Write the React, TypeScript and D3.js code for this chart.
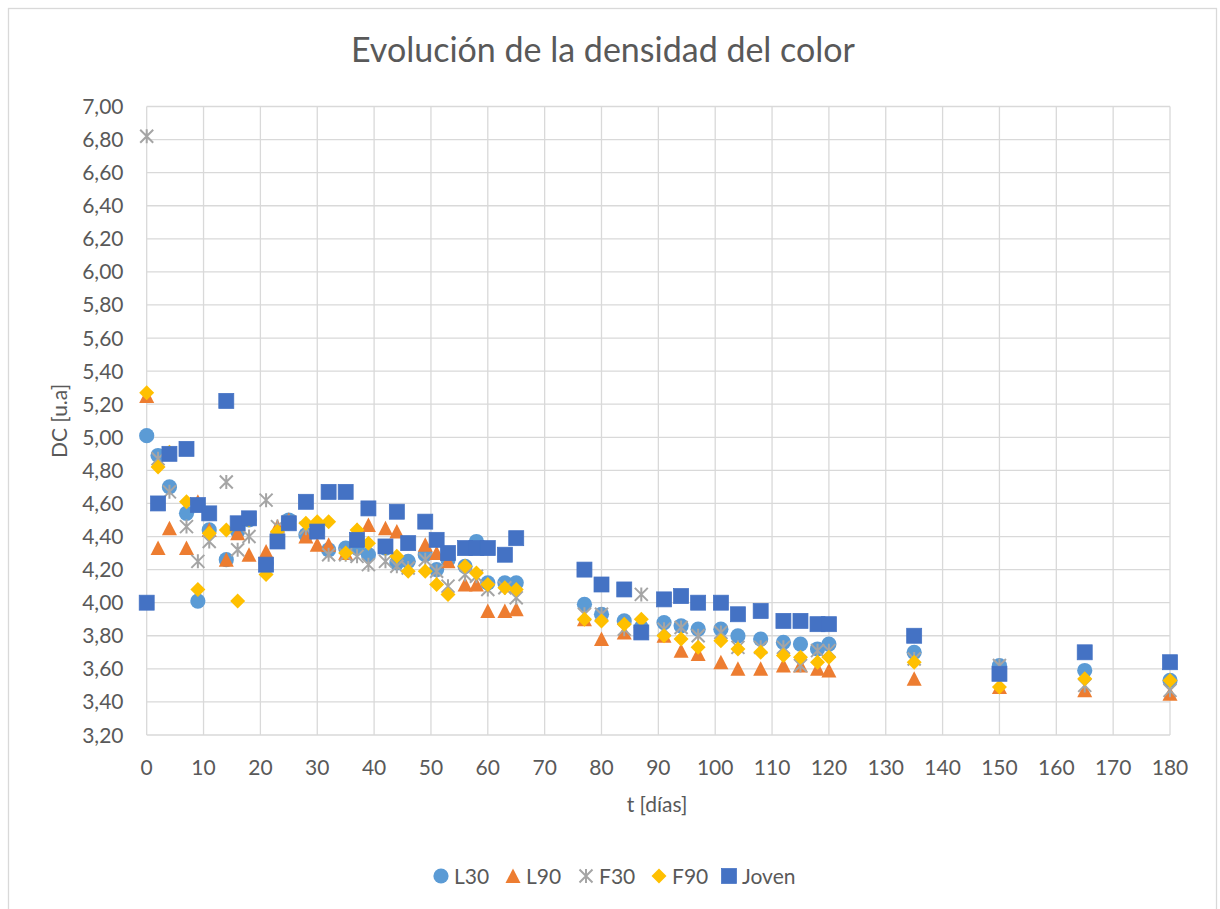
import React from 'react';
import * as d3 from 'd3';

const days = [0, 2, 4, 7, 9, 11, 14, 16, 18, 21, 23, 25, 28, 30, 32, 35, 37, 39, 42, 44, 46, 49, 51, 53, 56, 58, 60, 63, 65, 77, 80, 84, 87, 91, 94, 97, 101, 104, 108, 112, 115, 118, 120, 135, 150, 165, 180];

const L30 = [5.01, 4.89, 4.70, 4.54, 4.01, 4.44, 4.26, 4.43, 4.50, 4.24, 4.38, 4.50, 4.41, 4.43, 4.32, 4.33, 4.33, 4.29, 4.33, 4.24, 4.25, 4.29, 4.20, 4.26, 4.22, 4.37, 4.12, 4.12, 4.12, 3.99, 3.93, 3.89, 3.85, 3.88, 3.86, 3.84, 3.84, 3.80, 3.78, 3.76, 3.75, 3.72, 3.75, 3.70, 3.62, 3.59, 3.53];
const L90 = [5.25, 4.33, 4.45, 4.33, 4.61, 4.44, 4.26, 4.42, 4.29, 4.31, 4.46, 4.50, 4.40, 4.35, 4.35, 4.30, 4.44, 4.47, 4.45, 4.43, 4.36, 4.35, 4.30, 4.25, 4.11, 4.11, 3.95, 3.95, 3.96, 3.90, 3.78, 3.82, 3.83, 3.80, 3.71, 3.69, 3.64, 3.60, 3.60, 3.62, 3.62, 3.60, 3.59, 3.54, 3.49, 3.47, 3.45];
const F30 = [6.82, 4.87, 4.67, 4.46, 4.25, 4.37, 4.73, 4.32, 4.40, 4.62, 4.46, 4.49, 4.45, 4.44, 4.29, 4.29, 4.28, 4.23, 4.25, 4.22, 4.21, 4.26, 4.19, 4.10, 4.17, 4.16, 4.08, 4.09, 4.03, 3.93, 3.93, 3.84, 4.05, 3.84, 3.85, 3.80, 3.82, 3.73, 3.73, 3.73, 3.62, 3.71, 3.71, 3.66, 3.62, 3.50, 3.47];
const F90 = [5.27, 4.82, 4.91, 4.61, 4.08, 4.42, 4.44, 4.01, 4.50, 4.17, 4.43, 4.48, 4.48, 4.49, 4.49, 4.30, 4.44, 4.36, 4.33, 4.28, 4.19, 4.19, 4.11, 4.05, 4.22, 4.18, 4.11, 4.09, 4.08, 3.90, 3.89, 3.87, 3.90, 3.80, 3.78, 3.73, 3.77, 3.72, 3.70, 3.68, 3.67, 3.64, 3.67, 3.64, 3.49, 3.54, 3.53];
const Joven = [4.00, 4.60, 4.90, 4.93, 4.59, 4.54, 5.22, 4.48, 4.51, 4.23, 4.37, 4.48, 4.61, 4.43, 4.67, 4.67, 4.38, 4.57, 4.34, 4.55, 4.36, 4.49, 4.38, 4.30, 4.33, 4.33, 4.33, 4.29, 4.39, 4.20, 4.11, 4.08, 3.82, 4.02, 4.04, 4.00, 4.00, 3.93, 3.95, 3.89, 3.89, 3.87, 3.87, 3.80, 3.57, 3.70, 3.64];

const seriesNames = ['L30', 'L90', 'F30', 'F90', 'Joven'];
const seriesValues = [L30, L90, F30, F90, Joven];
const seriesColors = ['#5B9BD5', '#ED7D31', '#A5A5A5', '#FFC000', '#4472C4'];
const seriesShapes = ['circle', 'triangle', 'star', 'diamond', 'square'];

const xTicks = [0, 10, 20, 30, 40, 50, 60, 70, 80, 90, 100, 110, 120, 130, 140, 150, 160, 170, 180];
const yTicks = [3.2, 3.4, 3.6, 3.8, 4.0, 4.2, 4.4, 4.6, 4.8, 5.0, 5.2, 5.4, 5.6, 5.8, 6.0, 6.2, 6.4, 6.6, 6.8, 7.0];

const FONT = 'Lato, "Open Sans", sans-serif';
const TEXT = '#595959';
const GRID = '#D9D9D9';

function Marker({ shape, cx, cy, color }: { shape: string; cx: number; cy: number; color: string }) {
  const s = 7.5;
  if (shape === 'circle') return <circle cx={cx} cy={cy} r={7.6} fill={color} />;
  if (shape === 'square') return <rect x={cx - s} y={cy - s} width={2 * s} height={2 * s} fill={color} stroke={color} strokeWidth={0.75} />;
  if (shape === 'triangle')
    return <path d={`M${cx},${cy - s}L${cx + s},${cy + s - 0.5}L${cx - s},${cy + s - 0.5}Z`} fill={color} />;
  if (shape === 'diamond')
    return <path d={`M${cx},${cy - s}L${cx + s},${cy}L${cx},${cy + s}L${cx - s},${cy}Z`} fill={color} />;
  const a = 6.5;
  return (
    <path
      d={`M${cx - a},${cy - a}L${cx + a},${cy + a}M${cx - a},${cy + a}L${cx + a},${cy - a}M${cx},${cy - a - 0.5}L${cx},${cy + a + 0.5}`}
      stroke={color}
      strokeWidth={2}
      fill="none"
    />
  );
}

export default function App() {
  const W = 1220;
  const H = 909;
  const x = d3.scaleLinear().domain([0, 180]).range([146.7, 1170]);
  const y = d3.scaleLinear().domain([3.2, 7.0]).range([735, 106.5]);
  const fmt = (v: number) => v.toFixed(2).replace('.', ',');

  const legendX = [441, 513, 586, 659, 729];

  return (
    <svg
      width={W}
      height={H}
      viewBox={`0 0 ${W} ${H}`}
      style={{ position: 'absolute', left: 0, top: 0, background: '#fff' }}
      fontFamily={FONT}
    >
      <rect x={0} y={0} width={W} height={H} fill="#fff" />
      <rect x={8.5} y={8.5} width={1208} height={912} fill="#fff" stroke={GRID} strokeWidth={1.3} />

      <text x={603} y={62} textAnchor="middle" fontSize={34} fill={TEXT}>
        Evolución de la densidad del color
      </text>

      {/* gridlines */}
      {yTicks.map((t) => (
        <line key={'gy' + t} x1={x(0)} x2={x(180)} y1={y(t)} y2={y(t)} stroke={GRID} strokeWidth={1.3} />
      ))}
      {xTicks.map((t) => (
        <line key={'gx' + t} x1={x(t)} x2={x(t)} y1={y(3.2)} y2={y(7.0)} stroke={GRID} strokeWidth={1.3} />
      ))}

      {/* y tick labels */}
      {yTicks.map((t) => (
        <text key={'ly' + t} x={123.5} y={y(t) + 7.5} textAnchor="end" fontSize={21} fill={TEXT}>
          {fmt(t)}
        </text>
      ))}
      {/* x tick labels */}
      {xTicks.map((t) => (
        <text key={'lx' + t} x={x(t)} y={775} textAnchor="middle" fontSize={21} fill={TEXT}>
          {t}
        </text>
      ))}

      <text x={657} y={812} textAnchor="middle" fontSize={21} fill={TEXT}>
        t [días]
      </text>
      <text transform="translate(67,421) rotate(-90)" textAnchor="middle" fontSize={21} fill={TEXT}>
        DC [u.a]
      </text>

      {/* data */}
      {seriesValues.map((vals, si) => (
        <g key={seriesNames[si]}>
          {vals.map((v, i) => (
            <Marker key={i} shape={seriesShapes[si]} cx={x(days[i])} cy={y(v)} color={seriesColors[si]} />
          ))}
        </g>
      ))}

      {/* legend */}
      {seriesNames.map((n, si) => (
        <g key={'leg' + n}>
          <Marker shape={seriesShapes[si]} cx={legendX[si]} cy={876} color={seriesColors[si]} />
          <text x={legendX[si] + 13} y={883.5} fontSize={21} fill={TEXT}>
            {n}
          </text>
        </g>
      ))}
    </svg>
  );
}
